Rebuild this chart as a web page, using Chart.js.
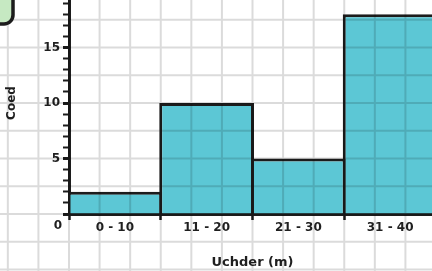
<!DOCTYPE html>
<html>
<head>
<meta charset="utf-8">
<script src="https://cdn.jsdelivr.net/npm/chart.js@4.4.1/dist/chart.umd.min.js"></script>
<style>
  html, body { margin: 0; padding: 0; background: #fff; overflow: hidden; }
  #wrap { position: absolute; left: 0; top: -8px; width: 436px; height: 279px; }
</style>
</head>
<body>
<div id="wrap"><canvas id="grafico"></canvas></div>
<script>
const categories = ['0 - 10', '11 - 20', '21 - 30', '31 - 40'];
const treeCounts = [2, 10, 5, 18];
const yTickLabels = [5, 10, 15];
const xTitle = 'Uchder (m)';
const yTitle = 'Coed';

const ink = '#1c1c1c';
Chart.defaults.font.family = '"DejaVu Sans"';

// squared paper behind everything, lined up with the axes
const graphPaper = {
  id: 'graphPaper',
  afterDatasetsDraw(chart) {
    const {ctx, chartArea, scales: {x, y}} = chart;
    const cell = (x.getPixelForValue(1) - x.getPixelForValue(0)) / 3;
    const row = y.getPixelForValue(0) - y.getPixelForValue(2.5);
    ctx.save();
    ctx.strokeStyle = 'rgba(0,0,0,0.14)';
    ctx.lineWidth = 2;
    ctx.beginPath();
    for (let px = chartArea.left - Math.ceil(chartArea.left / cell) * cell; px <= chart.width + 1; px += cell) {
      ctx.moveTo(px, 0);
      ctx.lineTo(px, chart.height);
    }
    const base = y.getPixelForValue(0);
    for (let py = base - Math.ceil(base / row) * row; py <= chart.height + 1; py += row) {
      ctx.moveTo(0, py);
      ctx.lineTo(chart.width, py);
    }
    ctx.stroke();
    ctx.restore();
  },
  afterDraw(chart) {
    const {ctx, chartArea} = chart;
    // origin label
    ctx.save();
    ctx.fillStyle = '#1f1f1f';
    ctx.font = 'bold 12px "DejaVu Sans"';
    ctx.textAlign = 'center';
    ctx.textBaseline = 'middle';
    ctx.fillText('0', chartArea.left - 11, chartArea.bottom + 12);
    // corner of the green label box
    ctx.beginPath();
    ctx.roundRect(-40, -32, 53, 64, 9);
    ctx.fillStyle = '#c6e9c2';
    ctx.fill();
    ctx.lineWidth = 3.5;
    ctx.strokeStyle = ink;
    ctx.stroke();
    ctx.restore();
  }
};

const ctx = document.getElementById('grafico').getContext('2d');
new Chart(ctx, {
  type: 'bar',
  data: {
    labels: categories,
    datasets: [{
      label: yTitle,
      data: treeCounts,
      backgroundColor: '#5cc7d5',
      borderColor: ink,
      borderWidth: 3,
      borderSkipped: 'start',
      categoryPercentage: 1,
      barPercentage: 1.033
    }]
  },
  options: {
    responsive: true,
    maintainAspectRatio: false,
    animation: false,
    layout: { padding: 0 },
    plugins: { legend: { display: false }, tooltip: { enabled: false } },
    scales: {
      x: {
        z: 1,
        offset: true,
        grid: { offset: true, drawOnChartArea: false, tickLength: 6, tickColor: ink, tickWidth: 2.5 },
        border: { color: ink, width: 3 },
        ticks: { color: '#1f1f1f', padding: 1, font: { size: 12, weight: 'bold' } },
        title: { display: true, text: xTitle, color: '#1f1f1f', font: { size: 13, weight: 'bold' }, padding: { top: 0, bottom: 1 } },
        afterFit(scale) { scale.height = 57; scale.paddingLeft = 0; scale.paddingRight = 0; }
      },
      y: {
        z: 1,
        min: 0,
        max: 20,
        ticks: {
          stepSize: 1,
          autoSkip: false,
          color: '#1f1f1f',
          padding: 3,
          font: { size: 12, weight: 'bold' },
          callback: v => yTickLabels.includes(v) ? String(v) : ''
        },
        grid: {
          drawOnChartArea: false,
          tickLength: 6,
          tickColor: ink,
          tickWidth: c => (c.tick && c.tick.value % 5 === 0) ? 3 : 2
        },
        border: { color: ink, width: 3 },
        title: { display: true, text: yTitle, color: '#1f1f1f', font: { size: 12, weight: 'bold' }, padding: { top: 5, bottom: 0 } },
        afterFit(scale) { scale.width = 69; scale.paddingTop = 0; scale.paddingBottom = 0; }
      }
    }
  },
  plugins: [graphPaper]
});
</script>
</body>
</html>
